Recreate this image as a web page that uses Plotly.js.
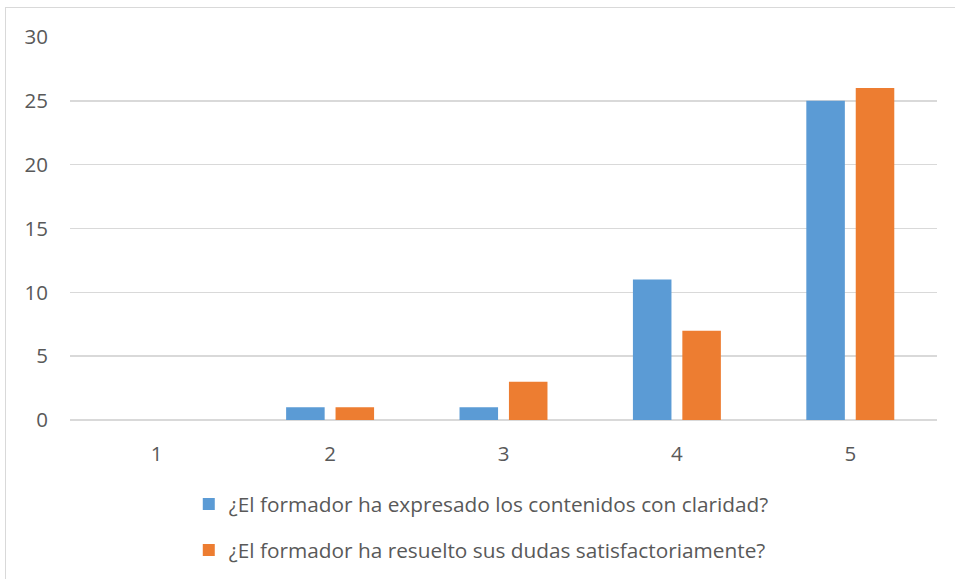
<!DOCTYPE html>
<html><head><meta charset="utf-8">
<script src="https://cdn.plot.ly/plotly-3.0.1.min.js"></script>
<style>
html,body{margin:0;padding:0;background:#fff;overflow:hidden;}
#wrap{position:absolute;left:0;top:0;width:955px;height:579px;}
#frame{position:absolute;left:5px;top:7px;width:960px;height:600px;border:1px solid #d9d9d9;box-sizing:border-box;pointer-events:none;}
#chart{position:absolute;left:0;top:0;width:955px;height:579px;}
</style></head>
<body><div id="wrap"><div id="chart"></div><div id="frame"></div></div>
<script>
const categories = ['1','2','3','4','5'];
const seriesNames = ['¿El formador ha expresado los contenidos con claridad?','¿El formador ha resuelto sus dudas satisfactoriamente?'];
const claridad = [0,1,1,11,25];
const dudas = [0,1,3,7,26];
const yTicks = [0,5,10,15,20,25,30];

const font = {family:'Open Sans, sans-serif', size:20.5, color:'#595959'};
const legendFont = {family:'Open Sans, sans-serif', size:20.8, color:'#595959'};
const data = [
  {type:'bar', x:categories, y:claridad, name:seriesNames[0], marker:{color:'#5B9BD5'}, legendgroup:'a'},
  {type:'bar', x:categories, y:dudas, name:seriesNames[1], marker:{color:'#ED7D31'}, legendgroup:'b'}
];
const layout = {
  width:955, height:579,
  margin:{l:70, r:18, t:37, b:159},
  paper_bgcolor:'rgba(0,0,0,0)', plot_bgcolor:'#fff',
  font:font,
  barmode:'group', bargap:0.43, bargroupgap:0.22,
  xaxis:{type:'category', showgrid:false, zeroline:false, showline:false, automargin:false,
    ticks:'outside', ticklen:15, tickcolor:'rgba(0,0,0,0)', tickfont:font},
  yaxis:{range:[0,30], tickvals:yTicks, showgrid:true, gridcolor:'#d9d9d9', gridwidth:1.5, automargin:false,
    zeroline:true, zerolinecolor:'#d9d9d9', zerolinewidth:1.5, showline:false,
    ticks:'outside', ticklen:17, tickcolor:'rgba(0,0,0,0)', tickfont:font},
  showlegend:true,
  legend:{orientation:'v', x:0.137, xanchor:'left', yref:'container', y:0.164, yanchor:'top',
    traceorder:'grouped', tracegroupgap:16, font:legendFont, bgcolor:'rgba(0,0,0,0)'}
};
Plotly.newPlot('chart', data, layout, {displayModeBar:false, staticPlot:true});
</script></body></html>
